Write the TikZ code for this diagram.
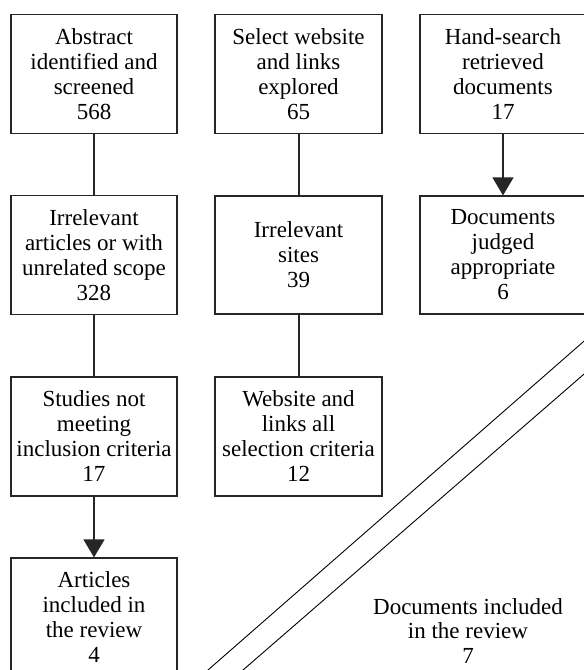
\documentclass[tikz,border=0pt]{standalone}
\usepackage{fontspec}
\setmainfont{Liberation Serif}
\usetikzlibrary{arrows.meta}
\begin{document}
\begin{tikzpicture}[x=1pt,y=-1pt,
  box/.style={draw=black!85,line width=1.2pt,minimum width=166pt,minimum height=119pt,inner sep=0pt,align=center,font=\fontsize{23}{25}\selectfont},
  plain/.style={draw=black!85,line width=1.2pt},
  arr/.style={draw=black!85,line width=1.2pt,-{Triangle[width=21pt,length=18pt]}},
  diag/.style={draw=black,line width=0.9pt},
  lbl/.style={align=center,inner sep=0pt,font=\fontsize{23}{24.5}\selectfont}]
\useasboundingbox (0,0) rectangle (584,670);
\clip (0,0) rectangle (584,670);
\fill[white] (0,0) rectangle (584,670);
% column 1
\node[box] (a1) at (94,74) {Abstract\\identified and\\screened\\568};
\node[box] (a2) at (94,255) {Irrelevant\\articles or with\\unrelated scope\\328};
\node[box] (a3) at (94,436.5) {Studies not\\meeting\\inclusion criteria\\17};
\node[box,minimum height=118pt] (a4) at (94,617) {Articles\\included in\\the review\\4};
% column 2
\node[box,minimum width=167pt] (b1) at (298.5,74) {Select website\\and links\\explored\\65};
\node[box,minimum width=167pt,minimum height=118pt] (b2) at (298.5,255) {Irrelevant\\sites\\39};
\node[box,minimum width=167pt] (b3) at (298.5,436.5) {Website and\\links all\\selection criteria\\12};
% column 3
\node[box] (c1) at (503,74) {Hand-search\\retrieved\\documents\\17};
\node[box,minimum height=118pt] (c2) at (503,255) {Documents\\judged\\appropriate\\6};
% connectors
\draw[plain] (a1) -- (a2);
\draw[plain] (a2) -- (a3);
\draw[arr] (a3) -- (a4);
\draw[plain] (b1.south) ++(0.5,0) coordinate (b1s) -- (b1s |- b2.north);
\draw[plain] (b2.south) ++(0.5,0) coordinate (b2s) -- (b2s |- b3.north);
\draw[arr] (c1) -- (c2);
% diagonal double line
\draw[diag] (198,678.75) -- (593,333.3);
\draw[diag] (233,678.7) -- (593,366.3);
\node[lbl] (d) at (468,631) {Documents included\\in the review\\7};
\end{tikzpicture}
\end{document}
